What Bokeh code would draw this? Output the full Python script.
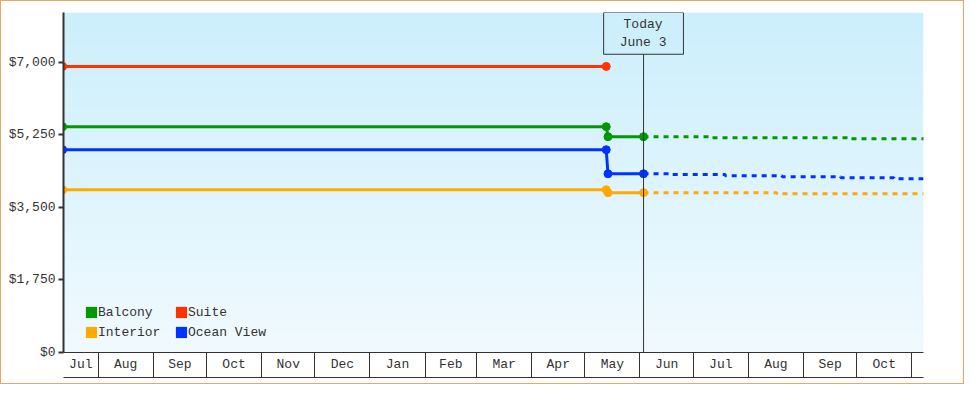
import numpy as np
import pandas as pd
from bokeh.plotting import figure
from bokeh.models import (Range1d, LinearAxis, DatetimeAxis, FixedTicker, NumeralTickFormatter,
                          Span, Label, Legend, LegendItem)
from bokeh.embed import file_html
from bokeh.resources import INLINE

# ---------------- data ----------------
hist_dates = ["2023-07-12", "2024-05-13", "2024-05-14", "2024-06-03"]
suite_dates = ["2023-07-12", "2024-05-13"]
suite_prices = [6900, 6900]
balcony_prices = [5445, 5445, 5205, 5205]
ocean_prices = [4890, 4890, 4310, 4310]
interior_prices = [3925, 3925, 3855, 3855]

balcony_fc_dates = ["2024-06-03", "2024-07-10", "2024-09-28", "2024-11-08"]
balcony_fc = [5205, 5180, 5155, 5155]
ocean_fc_dates = ["2024-06-03", "2024-06-19", "2024-07-19", "2024-08-20", "2024-09-22", "2024-10-22", "2024-11-08"]
ocean_fc = [4310, 4290, 4265, 4240, 4215, 4190, 4190]
interior_fc_dates = ["2024-06-03", "2024-08-17", "2024-11-08"]
interior_fc = [3855, 3830, 3830]

today = "2024-06-03"
today_text = "Today\nJune 3"
month_labels = ["Jul", "Aug", "Sep", "Oct", "Nov", "Dec", "Jan", "Feb", "Mar", "Apr",
                "May", "Jun", "Jul", "Aug", "Sep", "Oct"]
y_ticks = [0, 1750, 3500, 5250, 7000]
x_start, x_end = "2023-07-12 12:00", "2024-11-07 14:00"
y_max = 8200

series_names = ["Balcony", "Suite", "Interior", "Ocean View"]
colors = {"Balcony": "#009900", "Suite": "#FF3300", "Interior": "#FFAA00", "Ocean View": "#0033FF"}


def ms(d):
    return int(pd.Timestamp(d).value // 10**6)


def ms_list(ds):
    return [ms(d) for d in ds]


xs, xe = ms(x_start), ms(x_end)

FONT = "Liberation Mono"
DARK = "#333333"

p = figure(frame_width=860, frame_height=340, min_border_left=62, min_border_right=40,
           min_border_top=11, min_border_bottom=31,
           x_axis_type="datetime", x_axis_location=None, y_axis_location=None,
           x_range=Range1d(xs, xe), y_range=Range1d(0, y_max),
           output_backend="svg", toolbar_location=None)
p.outline_line_color = None
p.border_fill_color = "white"
p.xgrid.grid_line_color = None
p.ygrid.grid_line_color = None
p.styles = {"border": "1px solid #E8A865"}

# background gradient
N = 170
img = np.empty((N, 1), dtype=np.uint32)
view = img.view(dtype=np.uint8).reshape((N, 1, 4))
bottom = np.array([241, 250, 255])
top = np.array([204, 239, 252])
for i in range(N):
    t = i / (N - 1)
    c = bottom + (top - bottom) * t
    view[i, 0, 0] = int(c[0]); view[i, 0, 1] = int(c[1]); view[i, 0, 2] = int(c[2]); view[i, 0, 3] = 255
p.image_rgba(image=[img], x=xs, y=0, dw=xe - xs, dh=y_max, level="image")

# today marker
p.add_layout(Span(location=ms(today), dimension="height", line_color=DARK, line_width=1))

# series
hist = {"Balcony": balcony_prices, "Ocean View": ocean_prices, "Interior": interior_prices}
fc = {"Balcony": (balcony_fc_dates, balcony_fc), "Ocean View": (ocean_fc_dates, ocean_fc),
      "Interior": (interior_fc_dates, interior_fc)}

for name in ["Interior", "Ocean View", "Balcony"]:
    c = colors[name]
    fd, fv = fc[name]
    p.step(ms_list(fd), fv, mode="after", line_color=c, line_width=3, line_dash="5 5")
    p.line(ms_list(hist_dates), hist[name], line_color=c, line_width=3)
    p.scatter(ms_list(hist_dates), hist[name], marker="circle", size=8, fill_color=c, line_color=c)

p.line(ms_list(suite_dates), suite_prices, line_color=colors["Suite"], line_width=3)
p.scatter(ms_list(suite_dates), suite_prices, marker="circle", size=8,
          fill_color=colors["Suite"], line_color=colors["Suite"])

# today label
lab = Label(x=ms(today), y=y_max, text=today_text, text_align="center", text_baseline="top",
            text_font=FONT, text_font_size="13px", text_color=DARK, text_line_height=1.25,
            background_fill_color="#CDEFFC", border_line_color=DARK, border_line_width=1,
            padding=dict(left=16, right=17, top=4, bottom=4))
p.add_layout(lab)

# y axis
yax = LinearAxis(ticker=FixedTicker(ticks=y_ticks), formatter=NumeralTickFormatter(format="$0,0"))
yax.axis_line_color = DARK
yax.axis_line_width = 2
yax.major_tick_line_color = DARK
yax.major_tick_line_width = 2
yax.major_tick_out = 5
yax.major_tick_in = 0
yax.minor_tick_line_color = None
yax.major_label_standoff = 3
yax.major_label_text_font = FONT
yax.major_label_text_font_size = "13px"
yax.major_label_text_color = DARK
p.add_layout(yax, "left")

# x axis (month cells)
bounds = pd.date_range("2023-08-01", "2024-11-01", freq="MS")
bound_ms = [ms(b) for b in bounds]
edges = [xs] + bound_ms
centers = [int((edges[i] + edges[i + 1]) / 2) for i in range(len(month_labels))]
xax = DatetimeAxis(ticker=FixedTicker(ticks=centers, minor_ticks=bound_ms))
xax.major_label_overrides = {c: m for c, m in zip(centers, month_labels)}
xax.axis_line_color = DARK
xax.axis_line_width = 1
xax.major_tick_line_color = None
xax.major_tick_out = 0
xax.major_tick_in = 0
xax.minor_tick_line_color = DARK
xax.minor_tick_out = 25
xax.minor_tick_in = 0
xax.major_label_standoff = -21
xax.major_label_text_font = FONT
xax.major_label_text_font_size = "13px"
xax.major_label_text_color = DARK
xax.axis_label = " "
xax.axis_label_text_font_size = "1px"
xax.axis_label_standoff = -1
p.add_layout(xax, "below")

# bottom rule of the month strip
xax2 = LinearAxis(ticker=FixedTicker(ticks=[xs - 10**12]))
xax2.axis_line_color = DARK
xax2.axis_line_width = 1
xax2.major_tick_line_color = None
xax2.minor_tick_line_color = None
xax2.major_label_text_font_size = "1px"
xax2.major_label_standoff = 0
p.add_layout(xax2, "below")

# legend (swatch renderers carry no visible data)
items = []
for name in series_names:
    r = p.quad(left=[np.nan], right=[np.nan], top=[np.nan], bottom=[np.nan],
               fill_color=colors[name], line_color=None)
    items.append(LegendItem(label=name, renderers=[r]))
leg = Legend(items=items, location=(21, 10), orientation="horizontal", ncols=2)
leg.glyph_width = 14
leg.glyph_height = 14
leg.label_standoff = 0
leg.label_width = 76
leg.label_height = 20
leg.spacing = 0
leg.padding = 0
leg.margin = 0
leg.border_line_color = None
leg.background_fill_alpha = 0
leg.label_text_font = FONT
leg.label_text_font_size = "13px"
leg.label_text_color = DARK
p.add_layout(leg, "center")

open("out.html", "w").write(file_html(p, INLINE))
